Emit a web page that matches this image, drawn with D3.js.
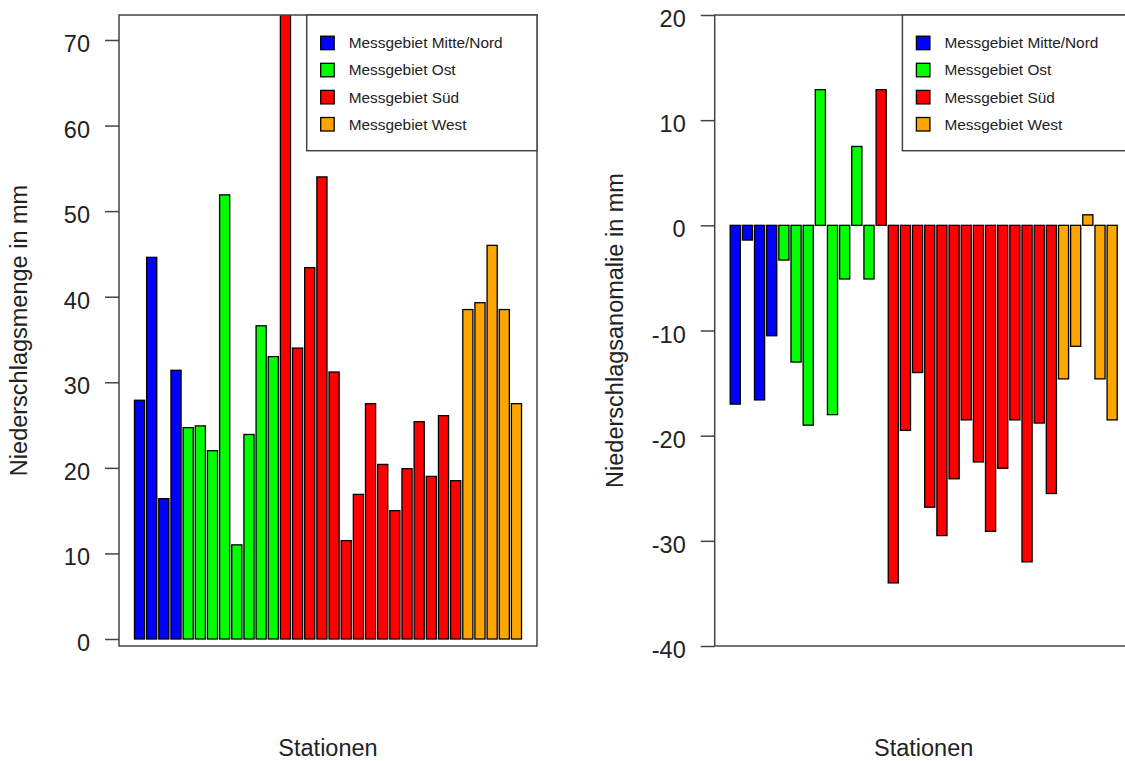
<!DOCTYPE html>
<html>
<head>
<meta charset="utf-8">
<script src="https://cdn.jsdelivr.net/npm/d3@7"></script>
<style>
  body { margin: 0; background: #fff; }
  svg { display: block; }
  text { font-family: "Liberation Sans", Arial, sans-serif; fill: #222; }
</style>
</head>
<body>
<div id="chart"></div>
<script>
// regions (legend) and their colours
var regions = ["Messgebiet Mitte/Nord", "Messgebiet Ost", "Messgebiet Süd", "Messgebiet West"];
var colors = ["#0000ff", "#00ff00", "#ff0000", "#ffa500"];

// region index of every station, in plot order
var stationRegion = [0, 0, 0, 0,
    1, 1, 1, 1, 1, 1, 1, 1,
    2, 2, 2, 2, 2, 2, 2, 2, 2, 2, 2, 2, 2, 2, 2,
    3, 3, 3, 3, 3];

// precipitation in mm (first Süd bar runs off the top)
var precip = [27.9, 44.6, 16.4, 31.4,
    24.7, 24.9, 22.0, 51.9, 11.0, 23.9, 36.6, 33.0,
    79.0, 34.0, 43.4, 54.0, 31.2, 11.5, 16.9, 27.5, 20.4, 15.0, 19.9, 25.4, 19.0, 26.1, 18.5,
    38.5, 39.3, 46.0, 38.5, 27.5];

// precipitation anomaly in mm
var anomaly = [-17.0, -1.4, -16.6, -10.5,
    -3.3, -13.0, -19.0, 12.9, -18.0, -5.1, 7.5, -5.1,
    12.9, -34.0, -19.5, -14.0, -26.8, -29.5, -24.1, -18.5, -22.5, -29.1, -23.1, -18.5, -32.0, -18.8, -25.5,
    -14.6, -11.5, 1.0, -14.6, -18.5];

var ticksLeft = [0, 10, 20, 30, 40, 50, 60, 70];
var ticksRight = [-40, -30, -20, -10, 0, 10, 20];

var plotTop = 15, plotBottom = 646;

var svg = d3.select("#chart")
    .append("svg")
    .attr("width", 1125)
    .attr("height", 761);

function panel(p) {
    var g = svg.append("g");

    // xScale
    var x = d3.scaleBand()
        .domain(d3.range(p.values.length))
        .range([p.x0, p.x1])
        .paddingInner(1 / 6)
        .paddingOuter(1.273);

    // yScale
    var y = d3.scaleLinear()
        .domain(p.domain)
        .range([plotBottom, plotTop]);

    g.append("clipPath")
        .attr("id", p.id)
        .append("rect")
        .attr("x", p.x0)
        .attr("y", plotTop)
        .attr("width", p.x1 - p.x0)
        .attr("height", plotBottom - plotTop);

    g.append("g")
        .attr("clip-path", "url(#" + p.id + ")")
        .selectAll("rect")
        .data(p.values)
        .join("rect")
        .attr("x", function (d, i) { return x(i); })
        .attr("width", x.bandwidth())
        .attr("y", function (d) { return y(Math.max(0, d)); })
        .attr("height", function (d) { return Math.abs(y(d) - y(0)); })
        .attr("fill", function (d, i) { return colors[stationRegion[i]]; })
        .attr("stroke", "#000")
        .attr("stroke-width", 1.3);

    // box
    g.append("rect")
        .attr("x", p.x0)
        .attr("y", plotTop)
        .attr("width", p.x1 - p.x0)
        .attr("height", plotBottom - plotTop)
        .attr("fill", "none")
        .attr("stroke", "#444")
        .attr("stroke-width", 1.5);

    // yAxis
    var ax = g.append("g")
        .attr("transform", "translate(" + p.x0 + ",0)")
        .call(d3.axisLeft(y)
            .tickValues(p.ticks)
            .tickSize(14)
            .tickPadding(15)
            .tickFormat(function (d) { return String(d); }));
    ax.attr("font-family", null).attr("font-size", null);
    ax.select(".domain").remove();
    ax.selectAll("line").attr("stroke", "#444").attr("stroke-width", 1.5);
    ax.selectAll("text")
        .attr("font-size", "23.5px")
        .attr("dy", "0.49em")
        .attr("fill", "#222");

    // y label
    g.append("text")
        .attr("transform", "translate(" + (p.x0 - 92) + "," + ((plotTop + plotBottom) / 2) + ") rotate(-90)")
        .attr("text-anchor", "middle")
        .attr("font-size", "23.5px")
        .text(p.ylabel);

    // x label
    g.append("text")
        .attr("x", (p.x0 + p.x1) / 2)
        .attr("y", 756)
        .attr("text-anchor", "middle")
        .attr("font-size", "23.5px")
        .text("Stationen");

    // legend
    var lg = g.append("g").attr("transform", "translate(" + (p.x1 - 230.3) + "," + plotTop + ")");
    lg.append("rect")
        .attr("width", 230.3)
        .attr("height", 135.7)
        .attr("fill", "#fff")
        .attr("stroke", "#444")
        .attr("stroke-width", 1.5);
    var items = lg.selectAll("g.item")
        .data(regions)
        .join("g")
        .attr("class", "item")
        .attr("transform", function (d, i) { return "translate(0," + (28 + i * 27.1) + ")"; });
    items.append("rect")
        .attr("x", 14)
        .attr("y", -6.8)
        .attr("width", 13.5)
        .attr("height", 13.5)
        .attr("fill", function (d, i) { return colors[i]; })
        .attr("stroke", "#000")
        .attr("stroke-width", 1.3);
    items.append("text")
        .attr("x", 42)
        .attr("dy", "0.35em")
        .attr("font-size", "15.4px")
        .text(function (d) { return d; });
}

panel({ id: "clipL", x0: 119, x1: 537, values: precip, domain: [-0.818, 72.92],
    ticks: ticksLeft, ylabel: "Niederschlagsmenge in mm" });
panel({ id: "clipR", x0: 714.7, x1: 1132.7, values: anomaly, domain: [-40, 20],
    ticks: ticksRight, ylabel: "Niederschlagsanomalie in mm" });
</script>
</body>
</html>
